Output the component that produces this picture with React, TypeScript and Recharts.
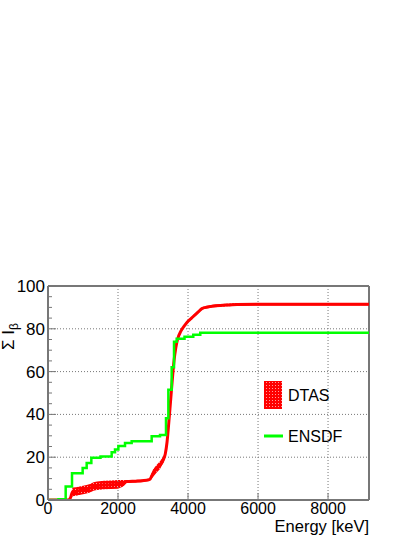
import React from "react";
import {
  ComposedChart,
  Line,
  Area,
  XAxis,
  YAxis,
  CartesianGrid,
  ReferenceLine,
} from "recharts";

// ---- data ----
const dtasEnergy = [0, 580, 640, 700, 800, 900, 1000, 1100, 1200, 1300, 1400, 1600, 1800, 2000, 2150, 2250, 2500, 2700, 2900, 3000, 3100, 3200, 3300, 3350, 3400, 3450, 3500, 3550, 3600, 3650, 3700, 3800, 3900, 4000, 4100, 4200, 4300, 4400, 4500, 4700, 5000, 5400, 6000, 9170];
const dtasValue = [0, 0, 1.0, 3.8, 4.0, 4.3, 4.7, 5.0, 5.5, 6.3, 6.7, 7.0, 7.1, 7.3, 7.8, 8.6, 8.8, 9.0, 9.5, 12.5, 14.5, 16.3, 19.0, 21.5, 27, 36, 46, 56, 65, 71, 75, 79, 81.5, 83.5, 85, 86.5, 88, 89.5, 90.0, 90.6, 91.0, 91.4, 91.5, 91.5];
const dtasError = [0, 0, 0.8, 2.0, 2.0, 2.0, 2.0, 2.0, 2.0, 2.0, 2.0, 2.0, 2.0, 2.0, 1.5, 0.6, 0.6, 0.6, 0.6, 1.8, 1.8, 1.8, 1.5, 1.2, 1.0, 0.8, 0.6, 0.6, 0.6, 0.6, 0.6, 0.6, 0.6, 0.6, 0.6, 0.6, 0.6, 0.6, 0.6, 0.6, 0.6, 0.6, 0.6, 0.6];

const ensdfEnergy = [0, 300, 505, 686, 990, 1105, 1238, 1500, 1819, 1914, 2010, 2200, 2390, 2962, 3200, 3371, 3438, 3533, 3600, 3676, 3900, 4150, 4350, 9170];
const ensdfValue = [0, 0.4, 6.3, 12.5, 15.0, 17.3, 19.8, 20.3, 22.3, 23.6, 25.2, 26.6, 27.5, 29.8, 30.4, 38.2, 51.5, 62.0, 74.0, 75.3, 76.3, 77.2, 78.2, 78.2];

const xTicks = [0, 2000, 4000, 6000, 8000];
const yTicks = [0, 5, 10, 15, 20, 25, 30, 35, 40, 45, 50, 55, 60, 65, 70, 75, 80, 85, 90, 95, 100];
const xGrid = [2000, 4000, 6000, 8000];
const yGrid = [20, 40, 60, 80];
const xMax = 9170;

const dtasData = dtasEnergy.map((e, i) => ({
  e,
  v: dtasValue[i],
  band: [dtasValue[i] - dtasError[i], dtasValue[i] + dtasError[i]],
}));
const ensdfData = ensdfEnergy.map((e, i) => ({ e, v: ensdfValue[i] }));

const FONT = "'Liberation Sans', Arial, Helvetica, sans-serif";
const AXIS_COLOR = "#777";

const YTick = (props: any) => {
  const { x, y, payload } = props;
  const v = payload.value;
  const major = v % 20 === 0;
  return (
    <g>
      <line x1={x} x2={x + (major ? 8 : 4)} y1={y} y2={y} stroke={AXIS_COLOR} strokeWidth={1} />
      {major && (
        <text x={x - 3} y={y + 6} textAnchor="end" fontSize={17} fontFamily={FONT} fill="#000">
          {v}
        </text>
      )}
    </g>
  );
};

const XTick = (props: any) => {
  const { x, y, payload } = props;
  return (
    <g>
      <line x1={x} x2={x} y1={y} y2={y - 7} stroke={AXIS_COLOR} strokeWidth={1} />
      <text x={x} y={y + 13.5} textAnchor="middle" fontSize={16} fontFamily={FONT} fill="#000">
        {payload.value}
      </text>
    </g>
  );
};

const YLabel = (props: any) => {
  const vb = props.viewBox || { x: 0, y: 286 };
  return (
    <text
      transform={`translate(${vb.x + 14},${vb.y + 64}) rotate(-90)`}
      textAnchor="start"
      fontSize={17}
      fontFamily={FONT}
      fill="#000"
    >
      Σ I
      <tspan dy={4} fontSize={12}>
        β
      </tspan>
    </text>
  );
};

const XLabel = (props: any) => {
  const vb = props.viewBox || { x: 48, y: 500, width: 321 };
  return (
    <text x={vb.x + vb.width} y={vb.y + 32} textAnchor="end" fontSize={16.5} fontFamily={FONT} fill="#000">
      Energy [keV]
    </text>
  );
};

export default function App() {
  return (
    <div style={{ position: "absolute", left: 0, top: 0, width: 415, height: 537, background: "#fff" }}>
      <ComposedChart
        width={415}
        height={537}
        margin={{ top: 286, right: 46, left: 0, bottom: 0 }}
      >
        <defs>
          <pattern id="hatch" width="3" height="3" patternUnits="userSpaceOnUse">
            <rect width="3" height="3" fill="#ff0000" />
            <rect x="0" y="0" width="1" height="1" fill="#ff9a9a" />
          </pattern>
        </defs>
        <CartesianGrid horizontal={false} vertical={false} />
        <XAxis
          type="number"
          dataKey="e"
          domain={[0, xMax]}
          ticks={xTicks}
          interval={0}
          height={37}
          tickSize={0}
          tickMargin={0}
          tickLine={false}
          axisLine={{ stroke: AXIS_COLOR, strokeWidth: 2 }}
          tick={<XTick />}
          allowDataOverflow
          label={{ content: <XLabel /> }}
        />
        <YAxis
          type="number"
          domain={[0, 100]}
          ticks={yTicks}
          interval={0}
          width={48}
          tickSize={0}
          tickMargin={0}
          tickLine={false}
          axisLine={{ stroke: AXIS_COLOR, strokeWidth: 2 }}
          tick={<YTick />}
          allowDataOverflow
          label={{ content: <YLabel /> }}
        />
        {xGrid.map((g) => (
          <ReferenceLine key={"gx" + g} x={g} stroke="#777" strokeDasharray="1 2" strokeWidth={1} />
        ))}
        {yGrid.map((g) => (
          <ReferenceLine key={"gy" + g} y={g} stroke="#777" strokeDasharray="1 2" strokeWidth={1} />
        ))}
        <ReferenceLine y={100} stroke={AXIS_COLOR} strokeWidth={2} />
        <ReferenceLine x={xMax} stroke={AXIS_COLOR} strokeWidth={2} />
        <Area
          data={dtasData}
          dataKey="band"
          type="linear"
          stroke="none"
          fill="url(#hatch)"
          fillOpacity={1}
          isAnimationActive={false}
          dot={false}
          activeDot={false}
        />
        <Line
          data={dtasData}
          dataKey="v"
          type="monotone"
          stroke="#ff0000"
          strokeWidth={3}
          dot={false}
          activeDot={false}
          isAnimationActive={false}
        />
        <Line
          data={ensdfData}
          dataKey="v"
          type="stepAfter"
          stroke="#00ff00"
          strokeWidth={2.5}
          dot={false}
          activeDot={false}
          isAnimationActive={false}
        />
      </ComposedChart>
      <svg width={100} height={80} style={{ position: "absolute", left: 260, top: 376 }}>
        <defs>
          <pattern id="hatchL" width="3" height="3" patternUnits="userSpaceOnUse">
            <rect width="3" height="3" fill="#ff0000" />
            <rect x="0" y="0" width="1" height="1" fill="#ff9a9a" />
          </pattern>
        </defs>
        <rect x={4} y={5} width={18} height={28} fill="url(#hatchL)" />
        <text x={28} y={25} fontSize={16} fontFamily={FONT} fill="#000">
          DTAS
        </text>
        <line x1={4} x2={23} y1={60} y2={60} stroke="#00ff00" strokeWidth={3} />
        <text x={28} y={66} fontSize={16} fontFamily={FONT} fill="#000">
          ENSDF
        </text>
      </svg>
    </div>
  );
}
